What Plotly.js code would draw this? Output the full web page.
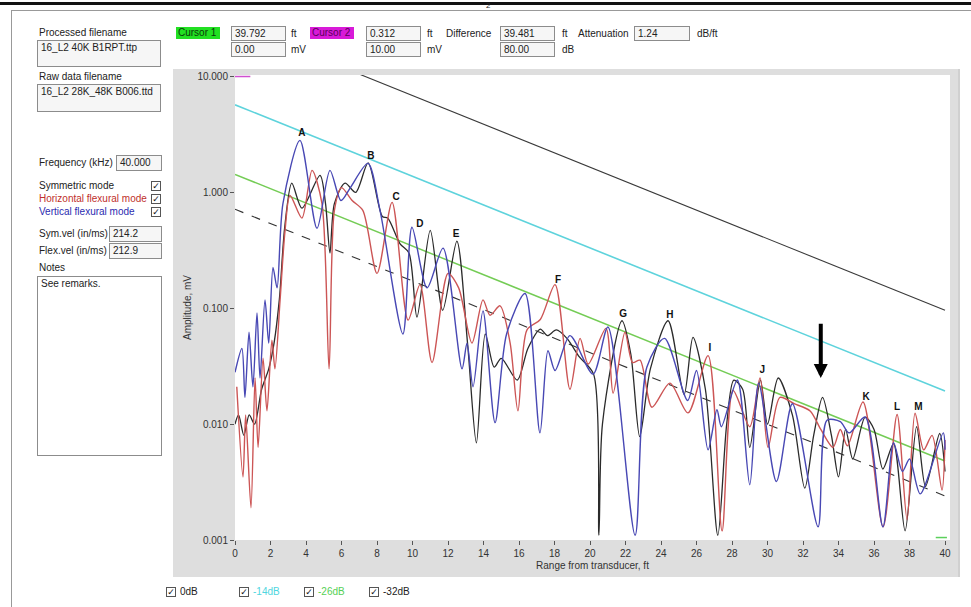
<!DOCTYPE html>
<html><head><meta charset="utf-8">
<script src="https://cdn.plot.ly/plotly-3.0.1.min.js"></script>
<style>
body{margin:0;background:#fff;font-family:"Liberation Sans",Arial,sans-serif;}
#wrap{position:relative;width:971px;height:607px;overflow:hidden;background:#fff;}
.t{position:absolute;font-size:10px;color:#222;white-space:nowrap;line-height:12px;}
.box{position:absolute;border:1px solid #8c8c8c;background:#f6f6f6;font-size:10px;color:#222;padding-left:3px;box-sizing:border-box;white-space:nowrap;overflow:hidden;}
.cb{position:absolute;width:10px;height:10px;border:1px solid #555;box-sizing:border-box;font-size:9px;line-height:9px;text-align:center;color:#111;background:#fff;font-family:"DejaVu Sans",sans-serif;font-weight:bold;}
#panel{position:absolute;left:173px;top:69px;width:785px;height:508px;background:#dedede;border-right:2px solid #d0d0d0;}
#plot{position:absolute;left:0;top:0;width:971px;height:607px;}
</style></head>
<body>
<div id="wrap">
  <div style="position:absolute;left:0;top:2px;width:971px;height:3px;background:#111;"></div>
  <div style="position:absolute;left:11px;top:10px;width:965px;height:620px;border-left:1px solid #999;border-top:1px solid #999;"></div>
  <div class="t" style="left:486px;top:0px;font-size:8px;">2</div>

  <div class="t" style="left:39px;top:27px;">Processed filename</div>
  <div class="box" style="left:37px;top:40px;width:124px;height:27px;line-height:14px;">16_L2 40K B1RPT.ttp</div>
  <div class="t" style="left:39px;top:71px;">Raw data filename</div>
  <div class="box" style="left:37px;top:84px;width:124px;height:28px;line-height:14px;">16_L2 28K_48K B006.ttd</div>

  <div class="t" style="left:39px;top:157px;">Frequency (kHz)</div>
  <div class="box" style="left:116px;top:155px;width:46px;height:16px;line-height:14px;">40.000</div>
  <div class="t" style="left:39px;top:180px;">Symmetric mode</div>
  <div class="cb" style="left:151px;top:181px;">✓</div>
  <div class="t" style="left:39px;top:193px;color:#c0302c;">Horizontal flexural mode</div>
  <div class="cb" style="left:151px;top:194px;">✓</div>
  <div class="t" style="left:39px;top:206px;color:#2b2bb0;">Vertical flexural mode</div>
  <div class="cb" style="left:151px;top:207px;">✓</div>
  <div class="t" style="left:39px;top:228px;">Sym.vel (in/ms)</div>
  <div class="box" style="left:109px;top:226px;width:53px;height:16px;line-height:14px;">214.2</div>
  <div class="t" style="left:39px;top:245px;">Flex.vel (in/ms)</div>
  <div class="box" style="left:109px;top:243px;width:53px;height:16px;line-height:14px;">212.9</div>
  <div class="t" style="left:39px;top:262px;">Notes</div>
  <div class="box" style="left:37px;top:276px;width:125px;height:180px;line-height:14px;background:#fff;">See remarks.</div>

  <div class="t" style="left:176px;top:27px;width:42px;height:12px;background:#22e022;color:#0a3a0a;padding-left:2px;">Cursor 1</div>
  <div class="box" style="left:231px;top:26px;width:55px;height:15px;line-height:13px;">39.792</div>
  <div class="t" style="left:291px;top:28px;">ft</div>
  <div class="box" style="left:231px;top:42px;width:55px;height:15px;line-height:13px;">0.00</div>
  <div class="t" style="left:291px;top:44px;">mV</div>

  <div class="t" style="left:310px;top:27px;width:42px;height:12px;background:#d81ad8;color:#5a005a;padding-left:2px;">Cursor 2</div>
  <div class="box" style="left:366px;top:26px;width:55px;height:15px;line-height:13px;">0.312</div>
  <div class="t" style="left:427px;top:28px;">ft</div>
  <div class="box" style="left:366px;top:42px;width:55px;height:15px;line-height:13px;">10.00</div>
  <div class="t" style="left:427px;top:44px;">mV</div>

  <div class="t" style="left:446px;top:28px;">Difference</div>
  <div class="box" style="left:500px;top:26px;width:55px;height:15px;line-height:13px;">39.481</div>
  <div class="t" style="left:562px;top:28px;">ft</div>
  <div class="box" style="left:500px;top:42px;width:55px;height:15px;line-height:13px;">80.00</div>
  <div class="t" style="left:562px;top:44px;">dB</div>
  <div class="t" style="left:578px;top:28px;">Attenuation</div>
  <div class="box" style="left:634px;top:26px;width:56px;height:15px;line-height:13px;">1.24</div>
  <div class="t" style="left:697px;top:28px;">dB/ft</div>

  <div id="panel"></div>
  <div id="plot"></div>

  <div class="cb" style="left:166px;top:587px;">✓</div>
  <div class="t" style="left:180px;top:586px;">0dB</div>
  <div class="cb" style="left:239px;top:587px;">✓</div>
  <div class="t" style="left:253px;top:586px;color:#4fd6e0;">-14dB</div>
  <div class="cb" style="left:304px;top:587px;">✓</div>
  <div class="t" style="left:318px;top:586px;color:#55d055;">-26dB</div>
  <div class="cb" style="left:369px;top:587px;">✓</div>
  <div class="t" style="left:383px;top:586px;">-32dB</div>
</div>
<script>
// Range axis ticks (ft)
const xTicks = [0,2,4,6,8,10,12,14,16,18,20,22,24,26,28,30,32,34,36,38,40];
const yTickVals = [0.001,0.01,0.1,1,10];
const yTickText = ['0.001','0.010','0.100','1.000','10.000'];

// Threshold lines (attenuation 1.24 dB/ft), endpoints read at 0 and 40 ft
const refX = [0, 40];
const ref0dB = [28.4, 0.096];
const ref14dB = [5.7, 0.0193];
const ref26dB = [1.43, 0.0048];
const ref32dB = [0.715, 0.0024];

// Symmetric mode (black)
const symX = [0,0.2,0.5,0.8,1.1,1.5,1.9,2.2,2.5,2.8,3.2,3.77,4.79,5.1,5.35,5.6,6.2,6.8,7.5,8.3,8.6,9.3,9.8,10.25,11.0,11.7,12.5,13.1,13.6,14.1,14.6,15.0,15.9,16.5,17.2,17.6,18.1,18.7,19.4,20.2,20.5,20.7,21.8,22.3,22.8,23.4,24.4,25.3,25.8,26.5,27.2,27.7,28.1,28.6,29.0,29.6,30.0,30.6,31.4,32.1,32.6,33.1,33.6,34.0,34.4,34.8,35.5,36.0,36.5,37.1,37.75,38.4,38.9,39.7,40.0];
const symY = [0.01,0.012,0.008,0.012,0.01,0.02,0.03,0.05,0.12,0.5,1.2,0.73,1.4,0.8,0.3,0.8,1.2,1.0,1.8,0.62,0.6,0.36,0.3,0.084,0.47,0.096,0.38,0.05,0.0069,0.06,0.031,0.037,0.024,0.045,0.066,0.058,0.065,0.055,0.038,0.027,0.0011,0.01,0.078,0.04,0.0078,0.03,0.078,0.018,0.056,0.02,0.0011,0.01,0.024,0.02,0.0063,0.024,0.01,0.025,0.012,0.0028,0.008,0.017,0.008,0.0035,0.009,0.005,0.0115,0.009,0.0041,0.0068,0.0012,0.0095,0.0029,0.0083,0.0039];

// Horizontal flexural mode (red)
const horX = [0.1,0.45,0.6,0.9,1.13,1.3,1.58,1.8,2.08,2.25,2.54,2.82,3.1,3.77,4.34,4.9,5.3,5.6,6.0,6.6,7.2,8.0,8.85,9.75,10.42,11.1,12.0,12.6,13.35,13.97,14.37,14.93,15.5,15.94,16.45,17.2,18.03,18.87,19.44,19.9,20.9,21.3,21.97,22.4,22.82,23.49,24.5,25.52,26.65,27.44,28.06,29.0,29.58,30.03,30.7,31.5,32.4,33.0,33.69,34.1,34.5,35.38,36.51,37.3,37.86,38.31,38.8,39.27,39.83,40.0];
const horY = [0.021,0.0035,0.012,0.0019,0.025,0.0063,0.037,0.013,0.053,0.03,0.118,0.47,0.94,0.6,1.55,0.8,0.03,0.7,1.1,0.85,0.7,0.2,0.82,0.079,0.16,0.034,0.2,0.15,0.05,0.118,0.087,0.105,0.05,0.013,0.065,0.08,0.16,0.02,0.055,0.033,0.067,0.0185,0.062,0.034,0.0356,0.014,0.0226,0.0125,0.039,0.0012,0.0195,0.0095,0.025,0.0063,0.017,0.015,0.013,0.009,0.0063,0.009,0.0065,0.0155,0.0013,0.0121,0.0015,0.0124,0.006,0.008,0.0027,0.0073];

// Vertical flexural mode (blue)
const verX = [0,0.39,0.56,0.79,1.01,1.24,1.41,1.69,1.9,2.14,2.37,2.7,3.66,4.62,5.35,5.97,6.5,7.49,8.17,9.46,9.97,10.82,11.72,12.79,13.07,13.41,13.97,14.65,15.3,16.34,17.18,17.63,18.03,18.87,20.17,21.01,22.54,23.2,24.2,25.5,26.0,26.65,27.15,27.4,28.3,29.0,29.5,30.5,31.4,32.85,33.35,34.1,34.6,35.5,36.5,37.1,37.6,38.0,38.6,39.9,40.0];
const verY = [0.028,0.045,0.017,0.062,0.021,0.091,0.025,0.118,0.05,0.225,0.15,0.8,2.81,0.49,1.55,0.85,1.1,1.78,0.7,0.06,0.5,0.15,0.33,0.03,0.05,0.021,0.095,0.0103,0.06,0.134,0.0084,0.043,0.029,0.058,0.027,0.069,0.0011,0.031,0.055,0.016,0.029,0.006,0.0133,0.0095,0.024,0.003,0.0226,0.0032,0.015,0.0013,0.0108,0.0105,0.0084,0.0115,0.0013,0.0069,0.0039,0.005,0.0025,0.0084,0.006];

// Peak labels
const peakLabels = ['A','B','C','D','E','F','G','H','I','J','K','L','M'];
const peakX = [3.77,7.66,9.07,10.42,12.45,18.2,21.86,24.5,26.76,29.7,35.55,37.3,38.5];
const peakY = [3.23,2.04,0.905,0.53,0.435,0.174,0.089,0.087,0.045,0.029,0.017,0.014,0.014];

// Arrow marker (ft, mV)
const arrowX = 33.0;
const arrowTop = 0.0757;
const arrowTip = 0.025;

// Cursors
const cursor1 = [39.792, 0.00105];
const cursor2 = [0.312, 10.0];

const lineRef = (y, color, dash, w) => ({x: refX, y: y, mode: 'lines', line: {color: color, width: w, dash: dash}, hoverinfo: 'skip'});
const data = [
  lineRef(ref0dB, '#3a3a3a', 'solid', 1.1),
  lineRef(ref14dB, '#5ed3dc', 'solid', 1.6),
  lineRef(ref26dB, '#74cc55', 'solid', 1.5),
  lineRef(ref32dB, '#333333', 'dash', 1.1),
  {x: symX, y: symY, mode: 'lines', line: {color: '#2b2b2b', width: 1.3, shape: 'spline', smoothing: 0.8}},
  {x: horX, y: horY, mode: 'lines', line: {color: '#cc5555', width: 1.4, shape: 'spline', smoothing: 0.8}},
  {x: verX, y: verY, mode: 'lines', line: {color: '#4848b4', width: 1.4, shape: 'spline', smoothing: 0.8}},
  {x: peakX, y: peakY, mode: 'text', text: peakLabels, textfont: {family: 'Liberation Sans, Arial', size: 10, color: '#111', weight: 'bold'}, hoverinfo: 'skip'},
  {x: [cursor2[0]], y: [cursor2[1]], mode: 'markers', marker: {symbol: 'line-ew', size: 14, line: {color: '#d04fd0', width: 1.5}}, hoverinfo: 'skip'},
  {x: [cursor1[0]], y: [cursor1[1]], mode: 'markers', marker: {symbol: 'line-ew', size: 8, line: {color: '#5cd05c', width: 1.5}}, hoverinfo: 'skip'}
];

const axisFont = {family: 'Liberation Sans, Arial', size: 10, color: '#333'};
const layout = {
  width: 971, height: 607,
  margin: {l: 235, r: 21, t: 75, b: 67},
  paper_bgcolor: 'rgba(0,0,0,0)',
  plot_bgcolor: '#ffffff',
  showlegend: false,
  font: axisFont,
  xaxis: {
    range: [0, 40.28], tickvals: xTicks, ticktext: xTicks.map(String),
    ticks: 'outside', ticklen: 4, tickcolor: '#555', showgrid: false, zeroline: false, showline: false,
    tickfont: axisFont, automargin: false,
    title: {text: 'Range from transducer, ft', font: axisFont, standoff: 3}
  },
  yaxis: {
    type: 'log', range: [-3, 1.013], tickvals: yTickVals, ticktext: yTickText,
    ticks: 'outside', ticklen: 4, tickcolor: '#555', showgrid: false, zeroline: false, showline: false,
    tickfont: axisFont, automargin: false,
    title: {text: 'Amplitude, mV', font: axisFont, standoff: 3}
  },
  annotations: [{
    x: arrowX, y: Math.log10(arrowTip), ax: arrowX, ay: Math.log10(arrowTop),
    xref: 'x', yref: 'y', axref: 'x', ayref: 'y',
    showarrow: true, arrowhead: 2, arrowsize: 0.7, arrowwidth: 4, arrowcolor: '#000', text: ''
  }]
};
Plotly.newPlot('plot', data, layout, {displayModeBar: false, staticPlot: true});
</script>
</body></html>
